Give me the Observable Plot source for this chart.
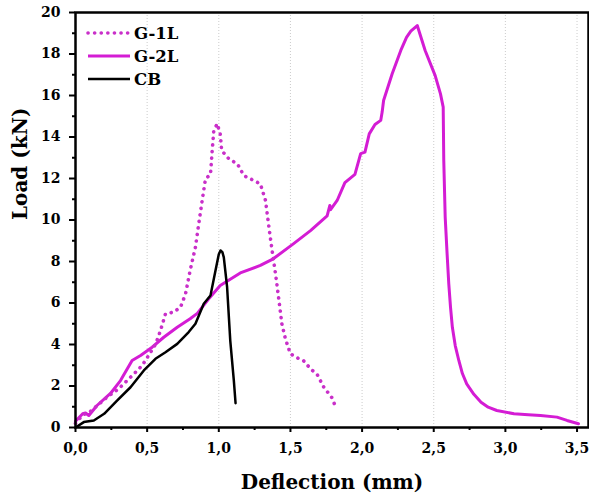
<!DOCTYPE html>
<html><head><meta charset="utf-8">
<script src="https://cdn.jsdelivr.net/npm/d3@7"></script>
<script src="https://cdn.jsdelivr.net/npm/@observablehq/plot@0.6"></script>
<style>body{margin:0;background:#fff} #chart{position:relative;width:589px;height:497px}</style>
</head><body><div id="chart"></div>
<script>
const xTicks = [0, 0.5, 1, 1.5, 2, 2.5, 3, 3.5];
const xMinor = [0.25, 0.75, 1.25, 1.75, 2.25, 2.75, 3.25];
const yTicks = [0, 2, 4, 6, 8, 10, 12, 14, 16, 18, 20];
const yMinor = [1, 3, 5, 7, 9, 11, 13, 15, 17, 19];
const seriesNames = ["G-1L", "G-2L", "CB"];
const seriesColors = ["#c92fc9", "#d41cd4", "#000000"];

const g1L = [[0,0.2],[0.05,0.6],[0.1,0.75],[0.15,1.05],[0.22,1.46],[0.30,1.86],[0.36,2.26],[0.42,2.67],[0.465,2.99],[0.51,3.47],[0.56,4.03],[0.593,4.67],[0.628,5.48],[0.686,5.56],[0.733,5.8],[0.768,6.44],[0.80,7.57],[0.837,8.69],[0.86,9.82],[0.884,10.94],[0.907,11.98],[0.942,12.2],[0.954,13.35],[0.965,14.3],[0.989,14.64],[1.01,14.15],[1.02,13.35],[1.07,12.95],[1.13,12.7],[1.175,12.14],[1.245,11.9],[1.29,11.74],[1.326,10.94],[1.35,9.65],[1.372,8.53],[1.396,7.4],[1.42,6.12],[1.44,5.0],[1.465,4.27],[1.50,3.55],[1.56,3.31],[1.59,3.23],[1.64,2.83],[1.687,2.55],[1.733,1.94],[1.79,1.43],[1.814,1.01]];

const g2L = [[0,0.3],[0.05,0.66],[0.07,0.7],[0.093,0.58],[0.15,1.06],[0.244,1.64],[0.314,2.26],[0.395,3.23],[0.454,3.47],[0.535,3.87],[0.616,4.35],[0.71,4.83],[0.80,5.24],[0.85,5.5],[0.93,6.2],[1.01,6.84],[1.15,7.45],[1.29,7.81],[1.38,8.13],[1.52,8.85],[1.64,9.49],[1.756,10.2],[1.775,10.7],[1.78,10.5],[1.826,10.94],[1.88,11.8],[1.95,12.2],[1.99,13.2],[2.02,13.27],[2.05,14.15],[2.09,14.6],[2.13,14.8],[2.14,15.2],[2.15,15.76],[2.21,17.05],[2.27,18.17],[2.31,18.8],[2.34,19.1],[2.385,19.37],[2.44,18.17],[2.51,16.96],[2.547,16.08],[2.566,15.44],[2.57,12.87],[2.58,10.13],[2.593,8.4],[2.605,6.92],[2.617,5.8],[2.63,4.83],[2.65,3.95],[2.675,3.23],[2.70,2.6],[2.73,2.1],[2.78,1.6],[2.83,1.22],[2.88,0.98],[2.94,0.82],[3.06,0.66],[3.16,0.62],[3.245,0.58],[3.36,0.5],[3.43,0.34],[3.51,0.18]];

const cb = [[0,0],[0.058,0.26],[0.128,0.34],[0.2,0.66],[0.29,1.3],[0.384,1.94],[0.477,2.75],[0.558,3.31],[0.628,3.63],[0.71,4.03],[0.79,4.6],[0.837,5.0],[0.895,5.96],[0.942,6.36],[0.977,7.57],[1.0,8.35],[1.012,8.53],[1.025,8.45],[1.035,8.2],[1.058,6.76],[1.08,4.19],[1.105,2.26],[1.117,1.17]];

const toRows = (arr) => arr.map(([x, y]) => ({x, y}));
const fmtX = d => d.toFixed(1).replace(".", ",");
const font = "DejaVu Serif";

const chart = Plot.plot({
  width: 589, height: 497,
  marginLeft: 75, marginRight: 1, marginTop: 12, marginBottom: 70,
  x: {domain: [0, 3.58]},
  y: {domain: [0, 20]},
  style: {fontFamily: font, fontWeight: "bold", background: "#fff", color: "#000"},
  marks: [
    Plot.gridX(xTicks.slice(1), {stroke: "#999", strokeOpacity: 0.5, strokeDasharray: "1,2"}),
    Plot.line(toRows(g2L), {x: "x", y: "y", stroke: seriesColors[1], strokeWidth: 3, strokeLinejoin: "round"}),
    Plot.line(toRows(g1L), {x: "x", y: "y", stroke: seriesColors[0], strokeWidth: 3.6, strokeDasharray: "0.1,6.5", strokeLinecap: "round"}),
    Plot.line(toRows(cb), {x: "x", y: "y", stroke: seriesColors[2], strokeWidth: 2.5, strokeLinejoin: "round", strokeLinecap: "round"}),
    Plot.frame({stroke: "#000", strokeWidth: 2.5}),
    Plot.axisX(xTicks, {tickSize: 5, tickPadding: 11, strokeWidth: 2, tickFormat: fmtX, fontSize: 14, label: null}),
    Plot.axisX(xMinor, {tickSize: 3, strokeWidth: 2, tickFormat: () => "", label: null}),
    Plot.axisY(yTicks, {tickSize: 6, tickPadding: 9, strokeWidth: 2, fontSize: 14, label: null}),
    Plot.axisY(yMinor, {tickSize: 3, strokeWidth: 2, tickFormat: () => "", label: null}),
    Plot.text(["Deflection (mm)"], {frameAnchor: "bottom", dy: 55, text: d => d, fontSize: 20, lineAnchor: "middle"}),
    Plot.text(["Load (kN)"], {frameAnchor: "left", dx: -55, rotate: -90, text: d => d, fontSize: 20})
  ]
});
document.getElementById("chart").appendChild(chart);

// legend inside the plot area
const svg = d3.select(chart);
const lg = svg.append("g").attr("font-family", font).attr("font-weight", "bold").attr("font-size", 16.5).attr("text-anchor", "start");
seriesNames.forEach((name, i) => {
  const y = 33 + i * 23;
  const line = lg.append("line").attr("x1", 88).attr("x2", 130).attr("y1", y).attr("y2", y)
    .attr("stroke", seriesColors[i]).attr("stroke-width", i === 0 ? 3.6 : (i === 1 ? 3 : 2.5));
  if (i === 0) line.attr("stroke-dasharray", "0.1,6.5").attr("stroke-linecap", "round");
  lg.append("text").attr("x", 134).attr("y", y).attr("dy", "0.35em").attr("fill", "#000").text(name);
});
</script></body></html>
